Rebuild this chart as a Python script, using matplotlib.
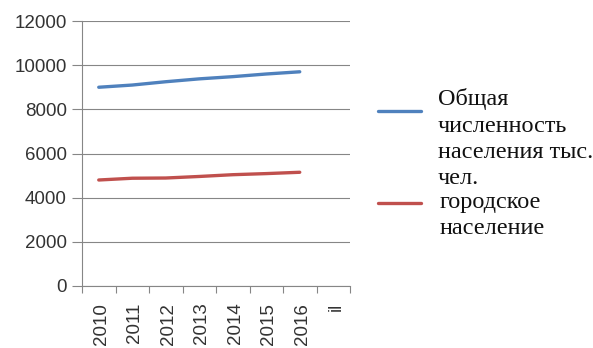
import matplotlib.pyplot as plt
from matplotlib.lines import Line2D
import numpy as np

# данные
categories = ['2010', '2011', '2012', '2013', '2014', '2015', '2016', 'il']
total_pop = [9000, 9100, 9250, 9380, 9480, 9600, 9700]
urban_pop = [4800, 4880, 4890, 4960, 5040, 5090, 5150]
labels = ['Общая\nчисленность\nнаселения тыс.\nчел.', 'городское\nнаселение']
colors = ['#4F81BD', '#C0504D']

W, H = 593, 348
fig = plt.figure(figsize=(W / 100, H / 100), dpi=100)
ax = fig.add_axes([82 / W, 1 - 286 / H, (350 - 82) / W, (286 - 21) / H])

x = np.arange(len(total_pop))
ax.plot(x, total_pop, color=colors[0], lw=2.4, solid_capstyle='round')
ax.plot(x, urban_pop, color=colors[1], lw=2.4, solid_capstyle='round')

ax.set_xlim(-0.5, len(categories) - 0.5)
ax.set_ylim(0, 12000)
ax.set_yticks(range(0, 12001, 2000))
ax.yaxis.grid(True, color='#868686', lw=0.8)
ax.set_axisbelow(True)

# подписи категорий по центру, засечки между ними
ax.set_xticks(np.arange(len(categories)) + 0.08)
ax.set_xticklabels(categories, rotation=90)
ax.set_xticks(np.arange(len(categories) + 1) - 0.5, minor=True)
ax.tick_params(axis='x', which='major', length=0, pad=12)
ax.tick_params(axis='x', which='minor', length=5, color='#868686', width=0.8)
ax.tick_params(axis='y', length=7, color='#868686', width=0.8, pad=4)
ax.tick_params(labelsize=13.5, labelcolor='#333333')
for lab in ax.get_xticklabels() + ax.get_yticklabels():
    lab.set_family('Liberation Sans')

for s in ['top', 'right']:
    ax.spines[s].set_visible(False)
for s in ['left', 'bottom']:
    ax.spines[s].set_color('#868686')
    ax.spines[s].set_linewidth(0.8)

# легенда вручную
leg_y = [111, 203]
txt_x = [438, 440]
txt_base = [105, 208]
pitch = 26.5
for lab, col, ly, tx, tb in zip(labels, colors, leg_y, txt_x, txt_base):
    fig.add_artist(Line2D([378 / W, 421 / W], [1 - ly / H, 1 - ly / H],
                          color=col, lw=2.4, solid_capstyle='round'))
    for i, line in enumerate(lab.split('\n')):
        fig.text(tx / W, 1 - (tb + i * pitch) / H, line, family='Liberation Serif',
                 fontsize=17.5, va='baseline', ha='left', color='#111111')

fig.savefig('out.png', dpi=100)
